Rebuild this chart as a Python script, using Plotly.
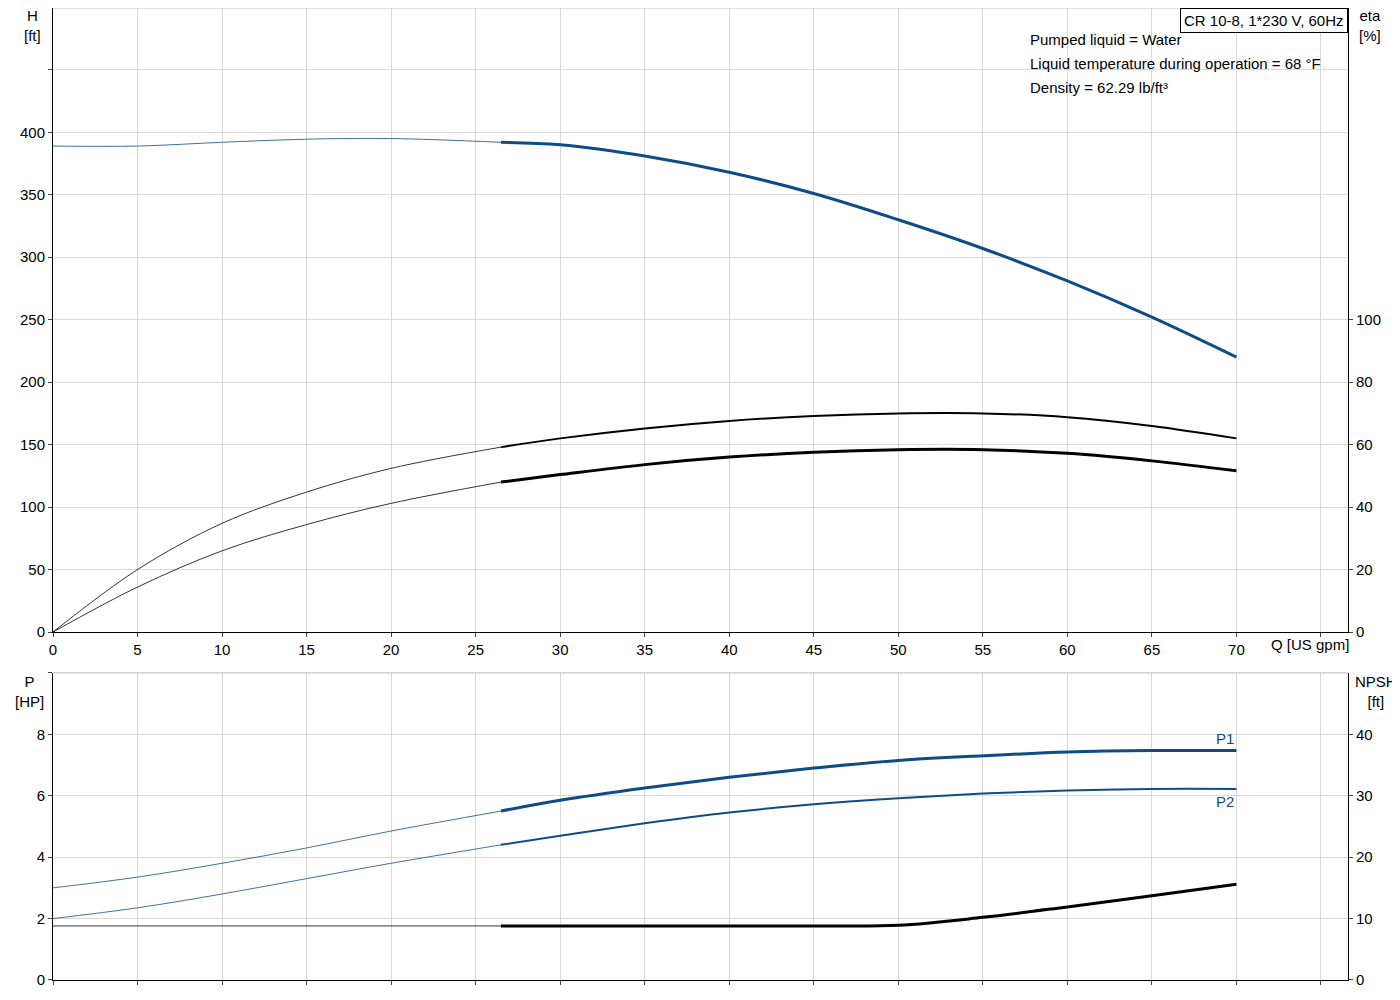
import plotly.graph_objects as go

q = [0, 5, 10, 15, 20, 26.5, 30, 35, 40, 45, 50, 55, 60, 65, 70]
H = [389, 389, 392, 394.5, 395, 392, 390, 381, 368, 351, 330, 307, 281, 252, 220]
eta1 = [0, 20, 34.8, 44.8, 52.4, 59.2, 62, 65.2, 67.6, 69.2, 70, 70, 68.8, 66, 62]
eta2 = [0, 14.4, 26, 34.4, 41.2, 48, 50.4, 53.6, 56, 57.6, 58.4, 58.4, 57.2, 54.8, 51.6]
P1 = [3.0, 3.35, 3.8, 4.3, 4.85, 5.5, 5.85, 6.25, 6.6, 6.9, 7.15, 7.3, 7.42, 7.47, 7.47]
P2 = [2.0, 2.35, 2.8, 3.3, 3.8, 4.4, 4.7, 5.1, 5.45, 5.72, 5.92, 6.07, 6.17, 6.22, 6.22]
NPSH = [8.8, 8.8, 8.8, 8.8, 8.8, 8.8, 8.8, 8.8, 8.8, 8.8, 8.9, 10.2, 11.9, 13.7, 15.6]
info_lines = ["Pumped liquid = Water", "Liquid temperature during operation = 68 °F", "Density = 62.29 lb/ft³"]

SPLIT = 5  # index of 26.5
BLUE = "#0f4c86"
fig = go.Figure()

def add(y, color, xa, ya, wthin=0.8, wthick=3):
    fig.add_trace(go.Scatter(x=q[:SPLIT + 1], y=y[:SPLIT + 1], mode="lines", line=dict(color=color, width=wthin, shape="spline"), xaxis=xa, yaxis=ya, hoverinfo="skip"))
    fig.add_trace(go.Scatter(x=q[SPLIT:], y=y[SPLIT:], mode="lines", line=dict(color=color, width=wthick, shape="spline"), xaxis=xa, yaxis=ya, hoverinfo="skip"))

add(H, BLUE, "x", "y")
add(eta1, "black", "x", "y2", wthick=2)
add(eta2, "black", "x", "y2")
add(P1, BLUE, "x2", "y3")
add(P2, BLUE, "x2", "y3", wthick=2)
add(NPSH, "black", "x2", "y4")

grid = "#d9d9d9"
xt = list(range(0, 80, 5))
xtt = [str(v) for v in xt[:-1]] + [""]
ax = dict(range=[0, 76.6], tickvals=xt, gridcolor=grid, showline=True, linecolor="black", zeroline=False, ticks="outside", ticklen=4, tickfont=dict(size=15))
fig.update_layout(
    width=1400, height=1000, plot_bgcolor="white", paper_bgcolor="white", showlegend=False,
    margin=dict(l=45, r=60, t=0, b=28, autoexpand=False),
    font=dict(family="Arial, Liberation Sans", size=15, color="black"),
    xaxis=dict(ax, domain=[0, 1], anchor="y", ticktext=xtt),
    xaxis2=dict(ax, domain=[0, 1], anchor="y3", showticklabels=False, matches="x"),
    yaxis=dict(domain=[0.358, 1], range=[0, 499.5], tickvals=list(range(0, 500, 50)),
               ticktext=[str(v) for v in range(0, 450, 50)] + [""], gridcolor=grid, showline=True, linecolor="black",
               zeroline=False, ticks="outside", ticklen=4, tickfont=dict(size=15)),
    yaxis2=dict(overlaying="y", side="right", range=[0, 199.8], tickvals=[0, 20, 40, 60, 80, 100], showgrid=False,
                showline=True, linecolor="black", zeroline=False, ticks="outside", ticklen=4, tickfont=dict(size=15)),
    yaxis3=dict(domain=[0, 0.316], range=[0, 10], tickvals=[0, 2, 4, 6, 8, 10], ticktext=["0", "2", "4", "6", "8", ""],
                gridcolor=grid, showline=True, linecolor="black", zeroline=False, ticks="outside", ticklen=4, tickfont=dict(size=15)),
    yaxis4=dict(overlaying="y3", side="right", range=[0, 50], tickvals=[0, 10, 20, 30, 40], showgrid=False,
                showline=True, linecolor="black", zeroline=False, ticks="outside", ticklen=4, tickfont=dict(size=15)),
)
fig.add_shape(type="line", xref="paper", yref="paper", x0=0, x1=1, y0=1, y1=1, line=dict(color="#bbbbbb", width=1))
fig.add_shape(type="line", xref="paper", yref="paper", x0=0, x1=1, y0=0.316, y1=0.316, line=dict(color="#bbbbbb", width=1))

def ann(text, x, y, xanchor="left", yanchor="top", color="black", **kw):
    fig.add_annotation(text=text, x=x, y=y, xref="paper", yref="paper", xanchor=xanchor, yanchor=yanchor,
                       showarrow=False, font=dict(size=15, color=color), **kw)

ann("H<br>[ft]", -0.016, 1.003, xanchor="center")
ann("eta<br>[%]", 1.017, 1.003, xanchor="center")
ann("P<br>[HP]", -0.018, 0.318, xanchor="center")
ann("NPSH<br>[ft]", 1.022, 0.318, xanchor="center")
fig.add_annotation(text="Q [US gpm]", x=71.9, y=0, xref="x", yref="y", xanchor="left", yanchor="top", yshift=-2,
                   showarrow=False, font=dict(size=15))
ann("CR 10-8, 1*230 V, 60Hz", 1.0, 1.0, xanchor="right", bordercolor="black", borderwidth=1, borderpad=3, bgcolor="white")
for i, line in enumerate(info_lines):
    ann(line, 0.753, 0.968 - i * 0.0247, yanchor="middle")
fig.add_annotation(text="P1", x=70, y=P1[-1], xref="x2", yref="y3", xanchor="right", yanchor="bottom", yshift=2,
                   showarrow=False, font=dict(size=15, color=BLUE))
fig.add_annotation(text="P2", x=70, y=P2[-1], xref="x2", yref="y3", xanchor="right", yanchor="top", yshift=-2,
                   showarrow=False, font=dict(size=15, color=BLUE))
fig.write_html("out.html")
